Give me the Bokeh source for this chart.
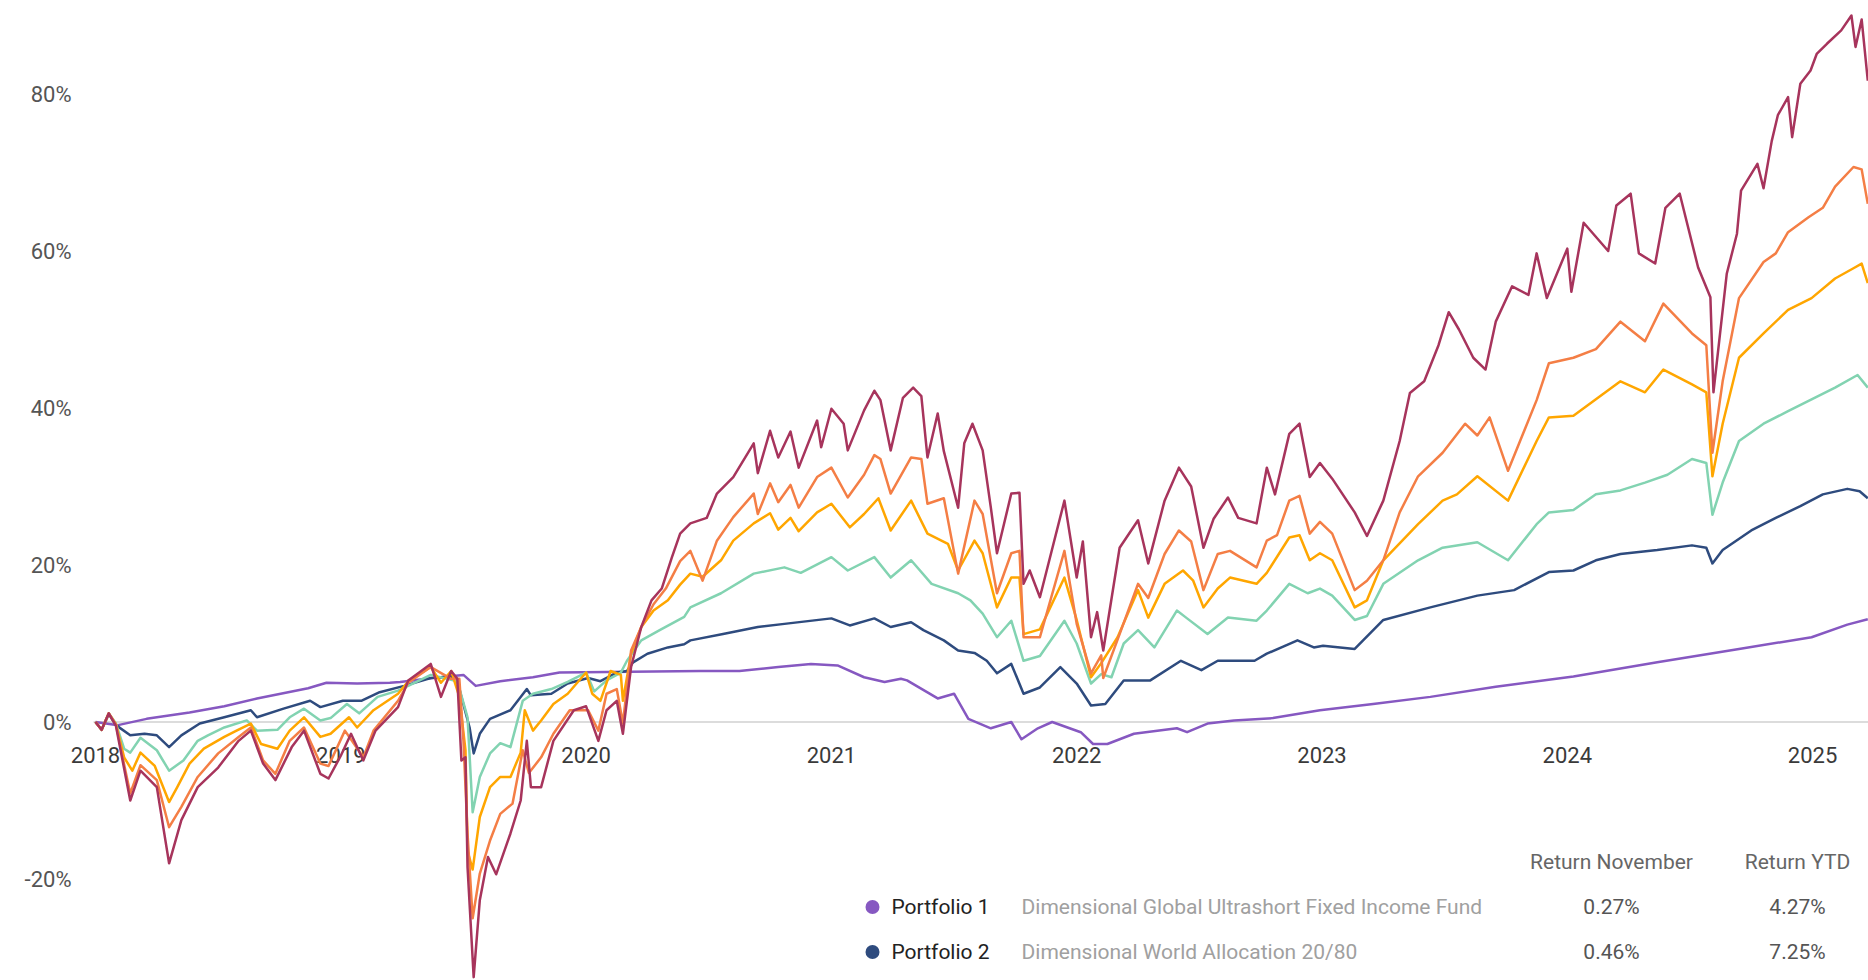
from bokeh.plotting import figure
from bokeh.models import Range1d
from bokeh.core.properties import value
from bokeh.embed import file_html
from bokeh.resources import INLINE

# ---------------- data (month offset since Jan 2018, cumulative return %) ----------------
year_ticks = [2018, 2019, 2020, 2021, 2022, 2023, 2024, 2025]
year_labels = ["2018", "2019", "2020", "2021", "2022", "2023", "2024", "2025"]
y_ticks = [-20, 0, 20, 40, 60, 80]
y_tick_labels = ["-20%", "0%", "20%", "40%", "60%", "80%"]

portfolio1 = [(0, 0), (1.1, -0.4), (2.5, 0.4), (4.6, 1.2), (6.3, 2.0), (7.9, 3.0), (10.4, 4.3), (11.3, 5.0),
              (12.8, 4.9), (14.4, 5.0), (14.9, 5.1), (16.5, 5.6), (18.0, 6.0), (18.6, 4.6), (19.8, 5.2),
              (21.4, 5.7), (22.7, 6.3), (29.6, 6.5), (31.5, 6.5), (33.4, 7.0), (35.0, 7.4), (36.3, 7.2),
              (37.6, 5.7), (38.6, 5.1), (39.4, 5.5), (39.7, 5.3), (41.2, 3.0), (42.0, 3.6), (42.7, 0.4),
              (43.8, -0.8), (44.8, 0.0), (45.3, -2.2), (46.1, -0.8), (46.8, 0.0), (48.2, -1.3), (48.8, -2.8),
              (49.5, -2.8), (50.8, -1.5), (52.9, -0.8), (53.4, -1.3), (54.4, -0.2), (55.7, 0.2), (57.6, 0.5),
              (59.9, 1.5), (62.5, 2.3), (65.3, 3.2), (68.5, 4.5), (72.3, 5.8), (76.4, 7.6), (80.4, 9.3),
              (83.95, 10.8), (85.7, 12.4), (86.7, 13.1)]

portfolio2 = [(0, 0), (0.3, -1.0), (0.65, 1.0), (1.0, -0.4), (1.7, -1.7), (2.4, -1.5), (3.0, -1.7), (3.6, -3.2),
              (4.2, -1.7), (5.1, -0.2), (6.3, 0.6), (7.6, 1.5), (7.9, 0.6), (9.2, 1.7), (10.5, 2.7), (11.0, 1.9),
              (12.1, 2.7), (13.0, 2.7), (13.9, 3.8), (15.1, 4.6), (16.4, 5.6), (17.4, 5.8), (17.7, 5.2),
              (17.9, 3.2), (18.3, -0.7), (18.5, -4.0), (18.8, -1.5), (19.3, 0.4), (20.3, 1.5), (21.1, 4.2),
              (21.3, 3.4), (22.3, 3.6), (23.1, 4.9), (24.1, 5.6), (24.7, 5.2), (25.5, 6.3), (26.0, 6.5),
              (26.3, 7.6), (27.0, 8.7), (28.0, 9.5), (28.8, 9.9), (29.1, 10.4), (30.7, 11.2), (32.4, 12.1),
              (33.7, 12.5), (36.0, 13.2), (36.9, 12.3), (38.1, 13.2), (38.9, 12.1), (39.9, 12.7), (40.5, 11.7),
              (41.5, 10.4), (42.2, 9.1), (43.0, 8.8), (43.6, 7.8), (44.1, 6.2), (44.8, 7.4), (45.4, 3.6),
              (46.2, 4.4), (47.2, 7.0), (48.0, 4.9), (48.7, 2.1), (49.4, 2.3), (50.3, 5.3), (51.6, 5.3),
              (53.1, 7.8), (54.1, 6.6), (54.9, 7.8), (56.7, 7.8), (57.3, 8.7), (58.8, 10.4), (59.6, 9.5),
              (60.05, 9.7), (61.6, 9.3), (63.0, 13.0), (65.3, 14.6), (67.6, 16.1), (69.4, 16.8), (71.1, 19.1),
              (72.3, 19.3), (73.4, 20.6), (74.6, 21.4), (76.4, 21.9), (78.1, 22.5), (78.8, 22.2), (79.1, 20.2),
              (79.6, 21.9), (81.0, 24.4), (82.2, 26.0), (83.4, 27.5), (84.5, 29.0), (85.7, 29.7), (86.3, 29.4),
              (86.7, 28.5)]

portfolio3 = [(0, 0), (0.3, -1.0), (0.65, 1.1), (1.0, -0.2), (1.4, -3.4), (1.7, -3.9), (2.2, -2.0), (3.0, -3.6),
              (3.6, -6.2), (4.3, -4.9), (5.0, -2.4), (5.5, -1.7), (6.3, -0.7), (7.4, 0.2), (7.9, -1.1),
              (8.9, -1.0), (9.5, 0.6), (10.2, 1.7), (11.0, 0.2), (11.5, 0.5), (12.3, 2.3), (12.9, 1.1),
              (13.8, 3.2), (14.8, 4.0), (15.3, 4.6), (16.4, 6.0), (17.7, 5.2), (18.2, 0.6), (18.45, -11.5),
              (18.8, -7.0), (19.3, -4.0), (19.8, -2.7), (20.3, -3.2), (20.9, 2.7), (21.4, 3.6), (22.3, 4.2),
              (23.1, 5.1), (24.0, 6.3), (24.4, 3.9), (25.0, 5.3), (25.7, 6.3), (26.0, 7.8), (26.7, 10.4),
              (27.6, 11.7), (28.8, 13.4), (29.1, 14.6), (30.6, 16.4), (32.2, 18.9), (33.7, 19.7), (34.5, 19.0),
              (36.0, 21.0), (36.8, 19.3), (38.1, 21.0), (38.9, 18.4), (39.9, 20.6), (40.9, 17.6), (42.2, 16.4),
              (42.8, 15.5), (43.4, 13.8), (44.1, 10.8), (44.8, 12.9), (45.4, 7.8), (46.2, 8.4), (47.4, 12.9),
              (48.0, 10.0), (48.7, 4.9), (49.2, 6.1), (49.7, 5.7), (50.3, 10.0), (51.0, 11.7), (51.8, 9.5),
              (52.9, 14.2), (53.4, 13.2), (54.4, 11.2), (55.4, 13.3), (56.8, 12.9), (57.3, 14.2), (58.4, 17.6),
              (59.3, 16.4), (59.9, 17.0), (60.5, 16.1), (61.6, 13.0), (62.2, 13.5), (63.0, 17.6), (64.7, 20.6),
              (65.9, 22.2), (67.6, 22.9), (69.1, 20.6), (70.5, 25.2), (71.1, 26.7), (72.3, 27.0), (73.4, 29.0),
              (74.6, 29.5), (75.8, 30.5), (76.9, 31.5), (78.1, 33.5), (78.8, 33.0), (79.1, 26.4), (79.6, 30.5),
              (80.4, 35.8), (81.6, 38.0), (82.8, 39.6), (83.95, 41.1), (85.1, 42.6), (86.2, 44.2), (86.7, 42.6)]

portfolio4 = [(0, 0), (0.3, -1.0), (0.65, 1.1), (1.0, -0.3), (1.4, -4.5), (1.8, -6.2), (2.2, -3.9), (2.9, -5.6),
              (3.6, -10.2), (4.0, -8.3), (4.6, -5.3), (5.3, -3.4), (6.3, -1.9), (6.9, -1.1), (7.6, -0.2),
              (8.1, -2.8), (8.9, -3.4), (9.5, -1.1), (10.2, 0.6), (11.0, -1.9), (11.5, -1.5), (12.4, 0.6),
              (12.8, -0.7), (13.6, 1.5), (14.8, 3.6), (15.3, 5.2), (16.4, 7.0), (16.9, 5.0), (17.4, 6.5),
              (17.8, 3.2), (18.1, -3.6), (18.2, -16.4), (18.45, -18.8), (18.8, -12.1), (19.3, -8.3), (19.8, -7.0),
              (20.3, -7.0), (20.8, -3.9), (21.0, 1.5), (21.4, -1.1), (21.8, 0.2), (22.4, 2.3), (23.1, 3.6),
              (24.0, 6.3), (24.3, 3.6), (24.7, 2.7), (25.2, 6.5), (25.7, 6.0), (25.8, 2.7), (26.2, 8.7),
              (26.7, 12.1), (27.3, 14.2), (28.0, 15.5), (28.6, 17.5), (29.1, 18.9), (29.7, 18.5), (30.6, 20.6),
              (31.2, 23.1), (32.2, 25.3), (33.0, 26.6), (33.4, 24.5), (34.0, 26.0), (34.4, 24.3), (35.3, 26.7),
              (36.0, 27.8), (36.9, 24.8), (37.6, 26.5), (38.3, 28.5), (38.9, 24.4), (39.9, 28.2), (40.7, 24.0),
              (41.7, 22.7), (42.2, 19.3), (43.0, 23.1), (43.4, 21.5), (44.1, 14.6), (44.8, 18.4), (45.2, 18.4),
              (45.4, 11.2), (46.2, 11.8), (47.4, 18.4), (48.0, 13.0), (48.7, 5.7), (49.2, 7.5), (50.0, 10.8),
              (51.0, 16.8), (51.5, 13.3), (52.3, 17.6), (53.2, 19.3), (53.7, 18.0), (54.2, 14.6), (54.9, 17.0),
              (55.5, 18.4), (56.8, 17.6), (57.3, 19.0), (58.4, 23.5), (58.9, 23.8), (59.4, 20.6), (59.9, 21.5),
              (60.5, 20.6), (61.6, 14.6), (62.2, 15.5), (63.0, 20.6), (64.7, 25.2), (65.9, 28.2), (66.6, 29.0),
              (67.6, 31.3), (69.1, 28.2), (70.5, 35.8), (71.1, 38.8), (72.3, 39.0), (73.4, 41.1), (74.6, 43.4),
              (75.8, 42.0), (76.7, 44.9), (78.1, 43.0), (78.8, 42.0), (79.1, 31.3), (79.6, 38.0), (80.4, 46.4),
              (81.6, 49.5), (82.8, 52.5), (83.95, 54.0), (85.1, 56.5), (86.0, 57.8), (86.4, 58.4), (86.7, 55.9)]

portfolio5 = [(0, 0), (0.3, -1.0), (0.65, 1.1), (1.0, -0.3), (1.4, -5.4), (1.7, -9.1), (2.2, -5.5), (3.0, -7.4),
              (3.6, -13.4), (4.2, -10.8), (5.0, -7.0), (6.0, -4.0), (7.0, -1.9), (7.6, -0.7), (8.2, -4.9),
              (8.8, -6.6), (9.5, -2.4), (10.2, -0.7), (11.0, -5.3), (11.4, -5.6), (12.2, -1.1), (13.1, -4.5),
              (13.6, -1.1), (14.8, 2.7), (15.3, 5.0), (16.4, 7.0), (17.4, 5.5), (17.8, 5.5), (18.0, -2.4),
              (18.2, -14.2), (18.45, -25.0), (18.8, -19.3), (19.3, -15.1), (19.8, -11.7), (20.4, -10.4),
              (20.9, -3.6), (21.2, -6.5), (21.8, -4.5), (22.4, -1.5), (23.2, 1.5), (24.1, 1.5), (24.6, -1.1),
              (25.0, 3.6), (25.5, 4.2), (25.8, -0.2), (26.2, 9.1), (26.7, 12.1), (27.3, 15.0), (27.9, 17.0),
              (28.6, 20.5), (29.1, 21.8), (29.7, 18.0), (30.4, 23.1), (31.2, 26.1), (32.2, 29.1), (32.4, 26.5),
              (33.0, 30.4), (33.4, 28.0), (34.0, 30.2), (34.4, 27.3), (35.3, 31.2), (36.0, 32.4), (36.8, 28.6),
              (37.6, 31.5), (38.1, 34.0), (38.4, 33.5), (38.9, 29.1), (39.9, 33.7), (40.4, 33.5), (40.7, 27.8),
              (41.5, 28.5), (42.2, 18.9), (43.0, 28.2), (43.4, 26.5), (44.1, 16.4), (44.8, 21.5), (45.2, 21.8),
              (45.4, 10.8), (46.2, 10.8), (47.4, 21.8), (48.0, 12.5), (48.7, 6.2), (49.2, 8.5), (49.3, 5.6),
              (50.1, 11.2), (51.0, 17.6), (51.5, 15.8), (52.3, 21.4), (53.0, 24.4), (53.6, 23.0), (54.2, 16.8),
              (54.9, 21.4), (55.5, 21.8), (56.8, 19.7), (57.3, 23.1), (57.8, 23.8), (58.4, 28.2), (58.9, 28.8),
              (59.4, 24.0), (59.9, 25.5), (60.5, 24.0), (61.6, 16.8), (62.2, 18.0), (63.0, 20.6), (63.8, 26.7),
              (64.7, 31.3), (65.9, 34.3), (67.0, 38.0), (67.6, 36.5), (68.2, 38.8), (69.1, 32.0), (70.5, 41.0),
              (71.1, 45.7), (72.3, 46.4), (73.4, 47.5), (74.6, 51.0), (75.8, 48.5), (76.7, 53.3), (78.1, 49.5),
              (78.8, 48.0), (79.1, 34.3), (79.6, 43.4), (80.4, 54.0), (81.6, 58.6), (82.2, 59.7), (82.8, 62.4),
              (83.8, 64.3), (84.5, 65.5), (85.1, 68.2), (86.0, 70.7), (86.4, 70.4), (86.7, 66.0)]

portfolio6 = [(0, 0), (0.3, -1.0), (0.65, 1.1), (1.0, -0.5), (1.7, -10.0), (2.2, -6.2), (3.0, -8.3), (3.6, -18.0),
              (4.2, -12.5), (5.0, -8.3), (6.0, -5.8), (7.0, -2.4), (7.6, -1.1), (8.2, -5.3), (8.8, -7.4),
              (9.6, -3.2), (10.2, -1.1), (11.0, -6.6), (11.4, -7.2), (12.0, -4.3), (12.5, -1.5), (13.1, -4.9),
              (13.7, -1.1), (14.8, 1.9), (15.3, 5.3), (16.4, 7.4), (16.9, 3.2), (17.4, 6.5), (17.7, 5.5),
              (17.9, -4.9), (18.1, -4.5), (18.2, -18.5), (18.5, -32.5), (18.8, -22.7), (19.2, -17.2),
              (19.6, -19.4), (20.3, -14.2), (20.8, -10.0), (21.1, -2.4), (21.3, -8.3), (21.8, -8.3), (22.4, -2.4),
              (23.4, 1.5), (24.0, 2.0), (24.6, -2.4), (25.0, 1.5), (25.5, 2.7), (25.8, -1.5), (26.2, 7.0),
              (26.7, 12.1), (27.2, 15.5), (27.7, 17.0), (28.2, 21.0), (28.6, 24.0), (29.1, 25.3), (29.9, 26.0),
              (30.4, 29.1), (31.2, 31.2), (32.2, 35.5), (32.4, 31.7), (33.0, 37.1), (33.4, 33.7), (34.0, 37.0),
              (34.4, 32.4), (35.3, 38.4), (35.5, 35.0), (36.0, 39.9), (36.6, 38.0), (36.8, 34.6), (37.6, 39.7),
              (38.1, 42.2), (38.4, 41.0), (38.9, 34.6), (39.5, 41.3), (40.0, 42.6), (40.4, 41.5), (40.7, 33.7),
              (41.2, 39.3), (41.5, 34.5), (42.2, 27.3), (42.5, 35.5), (42.9, 38.0), (43.4, 34.6), (43.8, 27.3),
              (44.1, 21.5), (44.8, 29.1), (45.2, 29.2), (45.4, 17.6), (45.7, 19.3), (46.2, 15.9), (47.4, 28.2),
              (48.0, 18.4), (48.3, 23.0), (48.7, 10.8), (49.0, 14.0), (49.3, 9.1), (50.1, 22.2), (51.0, 25.7),
              (51.5, 20.2), (52.3, 28.2), (53.0, 32.4), (53.6, 30.0), (54.2, 22.2), (54.7, 25.9), (55.4, 28.6),
              (55.9, 26.0), (56.8, 25.3), (57.3, 32.4), (57.7, 29.0), (58.4, 36.7), (58.9, 38.0), (59.4, 31.2),
              (59.9, 33.0), (60.5, 31.0), (61.6, 26.7), (62.2, 23.7), (63.0, 28.2), (63.8, 35.8), (64.3, 41.9),
              (65.0, 43.4), (65.7, 48.0), (66.2, 52.2), (66.7, 50.0), (67.4, 46.4), (68.0, 44.9), (68.5, 51.0),
              (69.3, 55.5), (70.1, 54.4), (70.5, 59.7), (71.0, 54.0), (72.0, 60.3), (72.2, 54.8), (72.8, 63.6),
              (74.0, 60.0), (74.4, 65.8), (75.1, 67.3), (75.5, 59.7), (76.3, 58.4), (76.8, 65.5), (77.5, 67.3),
              (78.4, 57.9), (79.0, 54.1), (79.15, 42.0), (79.8, 57.1), (80.3, 62.2), (80.5, 67.7), (81.3, 71.1),
              (81.6, 68.0), (82.0, 74.0), (82.3, 77.3), (82.8, 79.6), (83.0, 74.5), (83.4, 81.3), (83.9, 83.0),
              (84.2, 85.1), (84.7, 86.4), (85.4, 88.1), (85.9, 90.0), (86.1, 86.0), (86.4, 89.5), (86.7, 81.7)]

series_data = [portfolio1, portfolio2, portfolio3, portfolio4, portfolio5, portfolio6]
series_colors = ["#8658C1", "#2E4B7E", "#82D3B1", "#FFA600", "#F47E45", "#A7345C"]

legend_names = ["Portfolio 1", "Portfolio 2"]
legend_funds = ["Dimensional Global Ultrashort Fixed Income Fund", "Dimensional World Allocation 20/80"]
legend_colors = ["#8658C1", "#2E4B7E"]
return_november = ["0.27%", "0.46%"]
return_ytd = ["4.27%", "7.25%"]
header_labels = ["Return November", "Return YTD"]

# ---------------- layout (pixel geometry of the picture) ----------------
W, H = 1868, 980
DATA_LEFT = 95           # px where Jan 2018 sits
PX_PER_YEAR = 245.3
PX_PER_PCT = 7.85
ZERO_Y = 721.5

X0 = 2018 - DATA_LEFT / PX_PER_YEAR
X1 = X0 + W / PX_PER_YEAR
Y_TOP = ZERO_Y / PX_PER_PCT
Y_BOT = Y_TOP - H / PX_PER_PCT


def px_x(px):
    return X0 + px / PX_PER_YEAR


def px_y(py):
    return Y_TOP - py / PX_PER_PCT


FONT = value("Roboto")

p = figure(width=W, height=H, x_range=Range1d(X0, X1), y_range=Range1d(Y_BOT, Y_TOP),
           x_axis_location=None, y_axis_location=None, output_backend="svg", toolbar_location=None,
           min_border_left=0, min_border_right=0, min_border_top=0, min_border_bottom=0)
p.outline_line_color = None
p.background_fill_color = "white"
p.border_fill_color = "white"
p.grid.grid_line_color = None

# zero baseline (starts where the series start)
p.segment(x0=[px_x(93)], y0=[0], x1=[X1], y1=[0], line_color="#dcdcdc", line_width=2)

# y tick labels
p.text(x=[px_x(71)] * len(y_ticks), y=y_ticks, text=y_tick_labels, text_font=FONT, text_font_size="22px",
       text_color="#555555", text_align="right", text_baseline="middle")

# year labels sitting under the zero line
p.text(x=year_ticks, y=[0] * len(year_ticks), text=year_labels, text_font=FONT, text_font_size="22px",
       text_color="#3a3a3a", text_align="center", text_baseline="alphabetic", y_offset=33)

for data, color in zip(series_data, series_colors):
    xs = [2018 + m / 12.0 for m, _ in data]
    ys = [v for _, v in data]
    p.line(xs, ys, line_color=color, line_width=2.5, line_join="round")

# legend table
hdr_y = px_y(861)
p.text(x=[px_x(1611), px_x(1797)], y=[hdr_y, hdr_y], text=header_labels, text_font=FONT,
       text_font_size="21px", text_color="#666666", text_align="center", text_baseline="middle")
row_y = [px_y(906.5), px_y(951.5)]
p.scatter(x=[px_x(872)] * 2, y=row_y, size=14, marker="circle", fill_color=legend_colors, line_color=None)
p.text(x=[px_x(891)] * 2, y=row_y, text=legend_names, text_font=FONT, text_font_size="21px",
       text_color="#222222", text_align="left", text_baseline="middle")
p.text(x=[px_x(1021)] * 2, y=row_y, text=legend_funds, text_font=FONT, text_font_size="21px",
       text_color="#a0a0a0", text_align="left", text_baseline="middle")
p.text(x=[px_x(1611)] * 2, y=row_y, text=return_november, text_font=FONT, text_font_size="21px",
       text_color="#555555", text_align="center", text_baseline="middle")
p.text(x=[px_x(1797)] * 2, y=row_y, text=return_ytd, text_font=FONT, text_font_size="21px",
       text_color="#555555", text_align="center", text_baseline="middle")

open("out.html", "w").write(file_html(p, INLINE))
